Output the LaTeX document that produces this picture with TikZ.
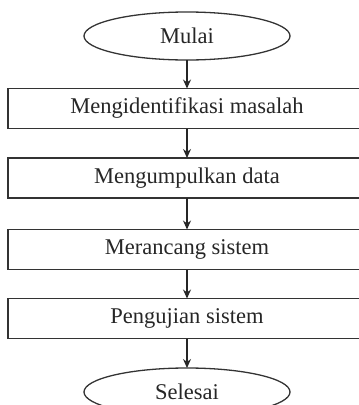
\documentclass[tikz,border=0pt]{standalone}
\usepackage{fontspec}
\setmainfont{Liberation Serif}
\usetikzlibrary{shapes.geometric,arrows.meta}
\begin{document}
\begin{tikzpicture}[x=1pt,y=-1pt,
  every node/.style={inner sep=0,outer sep=0,font=\fontsize{22.5}{26}\selectfont,text=black!85},
  terminal/.style={ellipse,draw=black!80,line width=1.3pt,minimum width=206pt,minimum height=48pt},
  process/.style={rectangle,draw=black!80,line width=1.3pt,minimum width=358pt,minimum height=40pt},
  flow/.style={draw=black!85,line width=1.3pt,-{Stealth[length=9pt,width=8pt]}}]
  \useasboundingbox (0,0) rectangle (359,405);
  %% Start and end.
  \node[terminal] (Mulai) at (187,36) {Mulai};
  \node[terminal] (Selesai) at (187,392) {Selesai};
  %% Steps.
  \node[process] (S1) at (187,108.5) {Mengidentifikasi masalah};
  \node[process] (S2) at (187,178) {Mengumpulkan data};
  \node[process] (S3) at (187,249.5) {Merancang sistem};
  \node[process] (S4) at (187,318.5) {Pengujian sistem};

  \draw[flow] (Mulai) -- (S1);
  \draw[flow] (S1) -- (S2);
  \draw[flow] (S2) -- (S3);
  \draw[flow] (S3) -- (S4);
  \draw[flow] (S4) -- (Selesai);
\end{tikzpicture}
\end{document}
